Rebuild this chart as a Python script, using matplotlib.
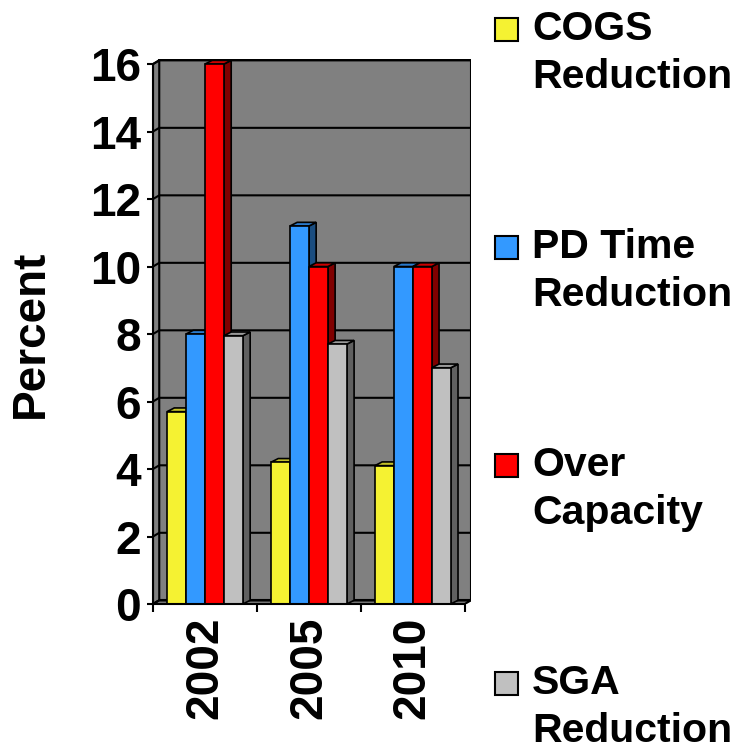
import matplotlib
matplotlib.use("Agg")
import matplotlib.pyplot as plt
from matplotlib.patches import Polygon, Rectangle

# survey results, percent
years = ["2002", "2005", "2010"]
labels = [("COGS", "Reduction"), ("PD Time", "Reduction"),
          ("Over", "Capacity"), ("SGA", "Reduction")]
cogs = [5.7, 4.2, 4.1]
pd_time = [8.0, 11.2, 10.0]
over_cap = [16.0, 10.0, 10.0]
sga = [7.95, 7.7, 7.0]
y_ticks = [0, 2, 4, 6, 8, 10, 12, 14, 16]

series = [cogs, pd_time, over_cap, sga]
front = ["#F5F232", "#3399FF", "#FF0000", "#C0C0C0"]
top = ["#C4C228", "#2A7ACC", "#CC0000", "#9A9A9A"]
side = ["#7A7919", "#1A4D80", "#800000", "#606060"]

plt.rcParams['font.family'] = ['Liberation Sans', 'DejaVu Sans']
plt.rcParams['font.weight'] = 'bold'

W, H = 738, 752
fig = plt.figure(figsize=(W / 100, H / 100), dpi=100)
ax = fig.add_axes([153 / W, 148 / H, 318 / W, 545 / H])
ax.set_xlim(0, 3.06)
ax.set_ylim(0, 16.15)
ax.patch.set_visible(False)

dx, dy = 0.06, 0.11     # fake 3d depth of the walls
bdx, bdy = 0.07, 0.11   # depth of the bars
ymax = y_ticks[-1]
ncat = len(years)
wall = "#808080"

# back wall, side wall and floor
ax.add_patch(Rectangle((dx, dy), ncat, ymax, fc=wall, ec="k", lw=1.5, zorder=0))
ax.add_patch(Polygon([(0, 0), (dx, dy), (dx, ymax + dy), (0, ymax)],
                     fc=wall, ec="k", lw=1.5, zorder=0))
ax.add_patch(Polygon([(0, 0), (ncat, 0), (ncat + dx, dy), (dx, dy)],
                     fc=wall, ec="k", lw=1.5, zorder=0))
for v in y_ticks:
    ax.plot([0, dx, ncat + dx], [v, v + dy, v + dy], color="k", lw=1.5, zorder=1)

# bars: front face + top + right side
w = 0.1825
for k, vals in enumerate(series):
    xs = [i + 0.135 + k * w for i in range(ncat)]
    ax.bar(xs, vals, width=w, align="edge", color=front[k], edgecolor="k",
           lw=1.2, zorder=3)
    for x0, v in zip(xs, vals):
        ax.add_patch(Polygon([(x0, v), (x0 + w, v), (x0 + w + bdx, v + bdy), (x0 + bdx, v + bdy)],
                             fc=top[k], ec="k", lw=1.2, zorder=2.5))
        ax.add_patch(Polygon([(x0 + w, 0), (x0 + w + bdx, bdy), (x0 + w + bdx, v + bdy), (x0 + w, v)],
                             fc=side[k], ec="k", lw=1.2, zorder=2))

for s in ["top", "right"]:
    ax.spines[s].set_visible(False)
ax.spines["left"].set_bounds(0, ymax)
ax.spines["bottom"].set_bounds(0, ncat)
for s in ["left", "bottom"]:
    ax.spines[s].set_linewidth(1.5)
    ax.spines[s].set_zorder(4)

ax.set_yticks(y_ticks)
ax.tick_params(axis="y", direction="out", length=4.5, width=1.5, labelsize=33, pad=4)
ax.set_xticks(range(ncat + 1))
ax.set_xticklabels([])
ax.set_xticks([i + 0.5 for i in range(ncat)], minor=True)
ax.set_xticklabels(years, minor=True, rotation=90, fontsize=33)
ax.tick_params(axis="x", which="major", direction="out", length=6, width=1.5)
ax.tick_params(axis="x", which="minor", length=0, pad=9)

ax.set_ylabel("Percent", fontsize=33, fontweight="bold", va="center")
ax.yaxis.set_label_coords((31 - 153) / 318, (604 - 334) / 545)

# legend on the right, one colored square per series
for k, (l1, l2) in enumerate(labels):
    base = 40 + 218 * k
    fig.patches.append(Rectangle((495 / W, 1 - (base + 1) / H), 23 / W, 23 / H,
                                 transform=fig.transFigure, fc=front[k], ec="k", lw=1.5))
    fig.text(532 / W, 1 - base / H, l1, fontsize=29.5, va="baseline", ha="left")
    fig.text(532 / W, 1 - (base + 48) / H, l2, fontsize=29.5, va="baseline", ha="left")

fig.savefig("out.png", dpi=100)
